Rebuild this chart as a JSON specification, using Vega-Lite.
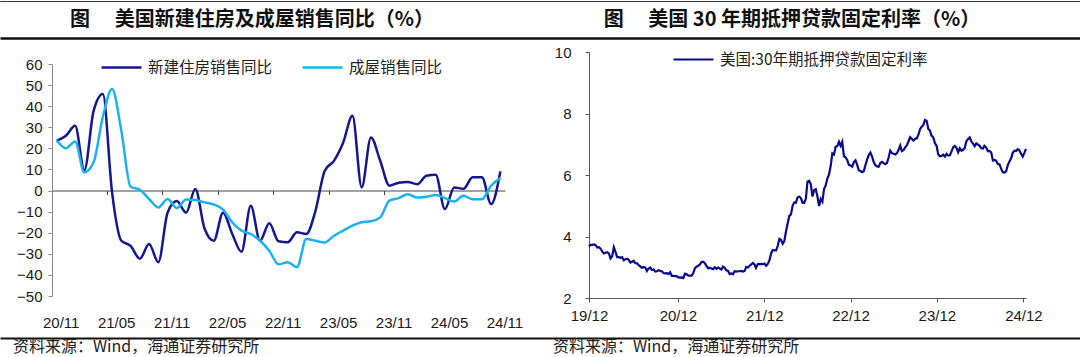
{
  "$schema": "https://vega.github.io/schema/vega-lite/v6.json",
  "padding": {"left": 0, "top": 1, "right": 0, "bottom": 0},
  "background": "white",
  "spacing": 7,
  "config": {
    "view": {"stroke": null},
    "font": "Noto Sans CJK SC",
    "axis": {"labelFont": "Liberation Sans", "labelFontSize": 15, "labelColor": "#1a1a1a", "grid": false, "tickSize": 4, "title": null, "domainColor": "#666", "tickColor": "#666", "labelOverlap": false, "labelFlush": false},
    "legend": {"labelFont": "Noto Sans CJK SC", "labelFontSize": 15.5, "labelColor": "#222", "padding": 0, "symbolType": "M-2,0L2,0", "symbolSize": 400, "symbolStrokeWidth": 2.5, "labelOffset": 15, "title": null, "labelLimit": 400}
  },
  "vconcat": [
    {
      "width": 1080,
      "height": 37,
      "data": {"values": [{"p": "L", "t": "图　 美国新建住房及成屋销售同比（%）"}, {"p": "R", "t": "图　 美国 30 年期抵押贷款固定利率（%）"}]},
      "mark": {"type": "text", "fontSize": 20, "fontWeight": "bold", "color": "#111", "dx": -18, "baseline": "middle"},
      "encoding": {
        "x": {"field": "p", "type": "nominal", "scale": {"type": "band", "paddingInner": 0, "paddingOuter": 0},
              "axis": {"orient": "top", "domain": true, "domainColor": "#333", "domainWidth": 1.2, "ticks": false, "labels": false}},
        "y": {"datum": 1.486, "type": "quantitative", "scale": {"domain": [1, 2], "nice": false},
              "axis": {"values": [1, 2], "grid": true, "gridColor": {"condition": {"test": "datum.value > 1.5", "value": "#333"}, "value": "#111"}, "gridWidth": {"condition": {"test": "datum.value > 1.5", "value": 1.2}, "value": 2.5}, "domain": false, "ticks": false, "labels": false}},
        "text": {"field": "t"}
      }
    },
    {
      "spacing": 0,
      "hconcat": [
        {"width": 1, "height": 1, "data": {"values": []}, "mark": "point"},
        {
          "spacing": 30,
          "resolve": {"scale": {"color": "independent"}, "legend": {"color": "independent"}},
          "hconcat": [
            {
              "width": 453,
              "height": 244,
              "data": {"values": [
                {"m": "20/11", "新建住房销售同比": 23.6, "成屋销售同比": 23.9},
                {"m": "20/12", "新建住房销售同比": 26, "成屋销售同比": 20.1},
                {"m": "21/01", "新建住房销售同比": 30.7, "成屋销售同比": 23.3},
                {"m": "21/02", "新建住房销售同比": 9.7, "成屋销售同比": 8.6},
                {"m": "21/03", "新建住房销售同比": 37.8, "成屋销售同比": 13.4},
                {"m": "21/04", "新建住房销售同比": 45.8, "成屋销售同比": 35},
                {"m": "21/05", "新建住房销售同比": -1, "成屋销售同比": 48.1},
                {"m": "21/06", "新建住房销售同比": -23.8, "成屋销售同比": 28.4},
                {"m": "21/07", "新建住房销售同比": -26.2, "成屋销售同比": 1.8},
                {"m": "21/08", "新建住房销售同比": -32.3, "成屋销售同比": 0.4},
                {"m": "21/09", "新建住房销售同比": -25.4, "成屋销售同比": -4},
                {"m": "21/10", "新建住房销售同比": -34, "成屋销售同比": -8},
                {"m": "21/11", "新建住房销售同比": -10.5, "成屋销售同比": -4},
                {"m": "21/12", "新建住房销售同比": -5, "成屋销售同比": -8.3},
                {"m": "22/01", "新建住房销售同比": -10.5, "成屋销售同比": -4.2},
                {"m": "22/02", "新建住房销售同比": 0.7, "成屋销售同比": -4.5},
                {"m": "22/03", "新建住房销售同比": -18, "成屋销售同比": -5.6},
                {"m": "22/04", "新建住房销售同比": -23.8, "成屋销售同比": -6.6},
                {"m": "22/05", "新建住房销售同比": -10.5, "成屋销售同比": -9},
                {"m": "22/06", "新建住房销售同比": -20.6, "成屋销售同比": -15.1},
                {"m": "22/07", "新建住房销售同比": -29, "成屋销售同比": -19},
                {"m": "22/08", "新建住房销售同比": -7.2, "成屋销售同比": -20.6},
                {"m": "22/09", "新建住房销售同比": -23.8, "成屋销售同比": -23.8},
                {"m": "22/10", "新建住房销售同比": -15.5, "成屋销售同比": -28.5},
                {"m": "22/11", "新建住房销售同比": -24, "成屋销售同比": -35},
                {"m": "22/12", "新建住房销售同比": -24.5, "成屋销售同比": -34},
                {"m": "23/01", "新建住房销售同比": -19.8, "成屋销售同比": -36.4},
                {"m": "23/02", "新建住房销售同比": -20.6, "成屋销售同比": -23},
                {"m": "23/03", "新建住房销售同比": -9.6, "成屋销售同比": -23.8},
                {"m": "23/04", "新建住房销售同比": 9.4, "成屋销售同比": -24.6},
                {"m": "23/05", "新建住房销售同比": 14.1, "成屋销售同比": -21.4},
                {"m": "23/06", "新建住房销售同比": 22.8, "成屋销售同比": -19},
                {"m": "23/07", "新建住房销售同比": 35.5, "成屋销售同比": -16.6},
                {"m": "23/08", "新建住房销售同比": 1.5, "成屋销售同比": -15},
                {"m": "23/09", "新建住房销售同比": 25.2, "成屋销售同比": -14.6},
                {"m": "23/10", "新建住房销售同比": 14.1, "成屋销售同比": -12.7},
                {"m": "23/11", "新建住房销售同比": 2.3, "成屋销售同比": -4.8},
                {"m": "23/12", "新建住房销售同比": 3.7, "成屋销售同比": -3.6},
                {"m": "24/01", "新建住房销售同比": 4.0, "成屋销售同比": -1.7},
                {"m": "24/02", "新建住房销售同比": 3.0, "成屋销售同比": -3.3},
                {"m": "24/03", "新建住房销售同比": 7.0, "成屋销售同比": -2.9},
                {"m": "24/04", "新建住房销售同比": 7.5, "成屋销售同比": -2.1},
                {"m": "24/05", "新建住房销售同比": -8.8, "成屋销售同比": -3.6},
                {"m": "24/06", "新建住房销售同比": 1.5, "成屋销售同比": -5.2},
                {"m": "24/07", "新建住房销售同比": 0.8, "成屋销售同比": -2.5},
                {"m": "24/08", "新建住房销售同比": 6.3, "成屋销售同比": -4.1},
                {"m": "24/09", "新建住房销售同比": 6.3, "成屋销售同比": -4.1},
                {"m": "24/10", "新建住房销售同比": -6.4, "成屋销售同比": 2.3},
                {"m": "24/11", "新建住房销售同比": 9.1, "成屋销售同比": 5.9}
              ]},
              "transform": [{"fold": ["新建住房销售同比", "成屋销售同比"], "as": ["k", "v"]}],
              "mark": {"type": "line", "interpolate": "monotone", "strokeWidth": 2.5},
              "encoding": {
                "x": {"field": "m", "type": "ordinal", "sort": "ascending", "scale": {"type": "band", "paddingInner": 0, "paddingOuter": 0},
                      "axis": {"values": ["20/11", "21/05", "21/11", "22/05", "22/11", "23/05", "23/11", "24/05", "24/11"], "bandPosition": 0, "labelOffset": 4.6, "labelAlign": "center", "labelAngle": 0, "offset": -105.5, "labelPadding": 121, "labelFlush": false, "domainColor": "#444", "tickColor": "#444"}},
                "y": {"field": "v", "type": "quantitative", "scale": {"domain": [-50, 65.7], "nice": false, "zero": false},
                      "axis": {"values": [-50, -40, -30, -20, -10, 0, 10, 20, 30, 40, 50, 60], "labelOverlap": false, "domain": true, "domainColor": "#888", "domainDash": [232, 40], "labelPadding": 6, "minExtent": 51, "tickColor": "#888"}},
                "color": {"field": "k", "type": "nominal", "scale": {"domain": ["新建住房销售同比", "成屋销售同比"], "range": ["#161690", "#1ab2ee"]},
                          "legend": {"orient": "none", "legendX": 58, "legendY": 4, "direction": "horizontal", "columnPadding": 24}}
              }
            },
            {
              "width": 437,
              "height": 246,
              "data": {"values": [
                {"d": "2019-12-05", "r": 3.68}, {"d": "2019-12-12", "r": 3.73}, {"d": "2019-12-19", "r": 3.73}, {"d": "2019-12-26", "r": 3.74},
                {"d": "2020-01-02", "r": 3.72}, {"d": "2020-01-09", "r": 3.64}, {"d": "2020-01-16", "r": 3.65}, {"d": "2020-01-23", "r": 3.60}, {"d": "2020-01-30", "r": 3.51},
                {"d": "2020-02-06", "r": 3.45}, {"d": "2020-02-13", "r": 3.47}, {"d": "2020-02-20", "r": 3.49}, {"d": "2020-02-27", "r": 3.45},
                {"d": "2020-03-05", "r": 3.29}, {"d": "2020-03-12", "r": 3.36}, {"d": "2020-03-19", "r": 3.65}, {"d": "2020-03-26", "r": 3.50},
                {"d": "2020-04-02", "r": 3.33}, {"d": "2020-04-09", "r": 3.33}, {"d": "2020-04-16", "r": 3.31}, {"d": "2020-04-23", "r": 3.33}, {"d": "2020-04-30", "r": 3.23},
                {"d": "2020-05-07", "r": 3.26}, {"d": "2020-05-14", "r": 3.28}, {"d": "2020-05-21", "r": 3.24}, {"d": "2020-05-28", "r": 3.15},
                {"d": "2020-06-04", "r": 3.18}, {"d": "2020-06-11", "r": 3.21}, {"d": "2020-06-18", "r": 3.13}, {"d": "2020-06-25", "r": 3.13},
                {"d": "2020-07-02", "r": 3.07}, {"d": "2020-07-09", "r": 3.03}, {"d": "2020-07-16", "r": 2.98}, {"d": "2020-07-23", "r": 3.01}, {"d": "2020-07-30", "r": 2.99},
                {"d": "2020-08-06", "r": 2.88}, {"d": "2020-08-13", "r": 2.96}, {"d": "2020-08-20", "r": 2.99}, {"d": "2020-08-27", "r": 2.91},
                {"d": "2020-09-03", "r": 2.93}, {"d": "2020-09-10", "r": 2.86}, {"d": "2020-09-17", "r": 2.87}, {"d": "2020-09-24", "r": 2.90},
                {"d": "2020-10-01", "r": 2.88}, {"d": "2020-10-08", "r": 2.87}, {"d": "2020-10-15", "r": 2.81}, {"d": "2020-10-22", "r": 2.80}, {"d": "2020-10-29", "r": 2.81},
                {"d": "2020-11-05", "r": 2.78}, {"d": "2020-11-12", "r": 2.84}, {"d": "2020-11-19", "r": 2.72}, {"d": "2020-11-25", "r": 2.72},
                {"d": "2020-12-03", "r": 2.71}, {"d": "2020-12-10", "r": 2.71}, {"d": "2020-12-17", "r": 2.67}, {"d": "2020-12-24", "r": 2.66}, {"d": "2020-12-31", "r": 2.67},
                {"d": "2021-01-07", "r": 2.65}, {"d": "2021-01-14", "r": 2.79}, {"d": "2021-01-21", "r": 2.77}, {"d": "2021-01-28", "r": 2.73},
                {"d": "2021-02-04", "r": 2.73}, {"d": "2021-02-11", "r": 2.73}, {"d": "2021-02-18", "r": 2.81}, {"d": "2021-02-25", "r": 2.97},
                {"d": "2021-03-04", "r": 3.02}, {"d": "2021-03-11", "r": 3.05}, {"d": "2021-03-18", "r": 3.09}, {"d": "2021-03-25", "r": 3.17},
                {"d": "2021-04-01", "r": 3.18}, {"d": "2021-04-08", "r": 3.13}, {"d": "2021-04-15", "r": 3.04}, {"d": "2021-04-22", "r": 2.97}, {"d": "2021-04-29", "r": 2.98},
                {"d": "2021-05-06", "r": 2.96}, {"d": "2021-05-13", "r": 2.94}, {"d": "2021-05-20", "r": 3.00}, {"d": "2021-05-27", "r": 2.95},
                {"d": "2021-06-03", "r": 2.99}, {"d": "2021-06-10", "r": 2.96}, {"d": "2021-06-17", "r": 2.93}, {"d": "2021-06-24", "r": 3.02},
                {"d": "2021-07-01", "r": 2.98}, {"d": "2021-07-08", "r": 2.90}, {"d": "2021-07-15", "r": 2.88}, {"d": "2021-07-22", "r": 2.78}, {"d": "2021-07-29", "r": 2.80},
                {"d": "2021-08-05", "r": 2.77}, {"d": "2021-08-12", "r": 2.87}, {"d": "2021-08-19", "r": 2.86}, {"d": "2021-08-26", "r": 2.87},
                {"d": "2021-09-02", "r": 2.87}, {"d": "2021-09-09", "r": 2.88}, {"d": "2021-09-16", "r": 2.86}, {"d": "2021-09-23", "r": 2.88}, {"d": "2021-09-30", "r": 3.01},
                {"d": "2021-10-07", "r": 2.99}, {"d": "2021-10-14", "r": 3.05}, {"d": "2021-10-21", "r": 3.09}, {"d": "2021-10-28", "r": 3.14},
                {"d": "2021-11-04", "r": 3.09}, {"d": "2021-11-10", "r": 2.98}, {"d": "2021-11-18", "r": 3.10}, {"d": "2021-11-24", "r": 3.10},
                {"d": "2021-12-02", "r": 3.11}, {"d": "2021-12-09", "r": 3.10}, {"d": "2021-12-16", "r": 3.12}, {"d": "2021-12-23", "r": 3.05}, {"d": "2021-12-30", "r": 3.11},
                {"d": "2022-01-06", "r": 3.22}, {"d": "2022-01-13", "r": 3.45}, {"d": "2022-01-20", "r": 3.56}, {"d": "2022-01-27", "r": 3.55},
                {"d": "2022-02-03", "r": 3.55}, {"d": "2022-02-10", "r": 3.69}, {"d": "2022-02-17", "r": 3.92}, {"d": "2022-02-24", "r": 3.89},
                {"d": "2022-03-03", "r": 3.76}, {"d": "2022-03-10", "r": 3.85}, {"d": "2022-03-17", "r": 4.16}, {"d": "2022-03-24", "r": 4.42}, {"d": "2022-03-31", "r": 4.67},
                {"d": "2022-04-07", "r": 4.72}, {"d": "2022-04-14", "r": 5.00}, {"d": "2022-04-21", "r": 5.11}, {"d": "2022-04-28", "r": 5.10},
                {"d": "2022-05-05", "r": 5.27}, {"d": "2022-05-12", "r": 5.30}, {"d": "2022-05-19", "r": 5.25}, {"d": "2022-05-26", "r": 5.10},
                {"d": "2022-06-02", "r": 5.09}, {"d": "2022-06-09", "r": 5.23}, {"d": "2022-06-16", "r": 5.78}, {"d": "2022-06-23", "r": 5.81}, {"d": "2022-06-30", "r": 5.70},
                {"d": "2022-07-07", "r": 5.30}, {"d": "2022-07-14", "r": 5.51}, {"d": "2022-07-21", "r": 5.54}, {"d": "2022-07-28", "r": 5.30},
                {"d": "2022-08-04", "r": 4.99}, {"d": "2022-08-11", "r": 5.22}, {"d": "2022-08-18", "r": 5.13}, {"d": "2022-08-25", "r": 5.55},
                {"d": "2022-09-01", "r": 5.66}, {"d": "2022-09-08", "r": 5.89}, {"d": "2022-09-15", "r": 6.02}, {"d": "2022-09-22", "r": 6.29}, {"d": "2022-09-29", "r": 6.70},
                {"d": "2022-10-06", "r": 6.66}, {"d": "2022-10-13", "r": 6.92}, {"d": "2022-10-20", "r": 6.94}, {"d": "2022-10-27", "r": 7.08},
                {"d": "2022-11-03", "r": 6.95}, {"d": "2022-11-10", "r": 7.08}, {"d": "2022-11-17", "r": 6.61}, {"d": "2022-11-23", "r": 6.58},
                {"d": "2022-12-01", "r": 6.49}, {"d": "2022-12-08", "r": 6.33}, {"d": "2022-12-15", "r": 6.31}, {"d": "2022-12-22", "r": 6.27}, {"d": "2022-12-29", "r": 6.42},
                {"d": "2023-01-05", "r": 6.48}, {"d": "2023-01-12", "r": 6.33}, {"d": "2023-01-19", "r": 6.15}, {"d": "2023-01-26", "r": 6.13},
                {"d": "2023-02-02", "r": 6.09}, {"d": "2023-02-09", "r": 6.12}, {"d": "2023-02-16", "r": 6.32}, {"d": "2023-02-23", "r": 6.50},
                {"d": "2023-03-02", "r": 6.65}, {"d": "2023-03-09", "r": 6.73}, {"d": "2023-03-16", "r": 6.60}, {"d": "2023-03-23", "r": 6.42}, {"d": "2023-03-30", "r": 6.32},
                {"d": "2023-04-06", "r": 6.28}, {"d": "2023-04-13", "r": 6.27}, {"d": "2023-04-20", "r": 6.39}, {"d": "2023-04-27", "r": 6.43},
                {"d": "2023-05-04", "r": 6.39}, {"d": "2023-05-11", "r": 6.35}, {"d": "2023-05-18", "r": 6.39}, {"d": "2023-05-25", "r": 6.57},
                {"d": "2023-06-01", "r": 6.79}, {"d": "2023-06-08", "r": 6.71}, {"d": "2023-06-15", "r": 6.69}, {"d": "2023-06-22", "r": 6.67}, {"d": "2023-06-29", "r": 6.71},
                {"d": "2023-07-06", "r": 6.81}, {"d": "2023-07-13", "r": 6.96}, {"d": "2023-07-20", "r": 6.78}, {"d": "2023-07-27", "r": 6.81},
                {"d": "2023-08-03", "r": 6.90}, {"d": "2023-08-10", "r": 6.96}, {"d": "2023-08-17", "r": 7.09}, {"d": "2023-08-24", "r": 7.23}, {"d": "2023-08-31", "r": 7.18},
                {"d": "2023-09-07", "r": 7.12}, {"d": "2023-09-14", "r": 7.18}, {"d": "2023-09-21", "r": 7.19}, {"d": "2023-09-28", "r": 7.31},
                {"d": "2023-10-05", "r": 7.49}, {"d": "2023-10-12", "r": 7.57}, {"d": "2023-10-19", "r": 7.63}, {"d": "2023-10-26", "r": 7.79},
                {"d": "2023-11-02", "r": 7.76}, {"d": "2023-11-09", "r": 7.50}, {"d": "2023-11-16", "r": 7.44}, {"d": "2023-11-22", "r": 7.29}, {"d": "2023-11-30", "r": 7.22},
                {"d": "2023-12-07", "r": 7.03}, {"d": "2023-12-14", "r": 6.95}, {"d": "2023-12-21", "r": 6.67}, {"d": "2023-12-28", "r": 6.61},
                {"d": "2024-01-04", "r": 6.62}, {"d": "2024-01-11", "r": 6.66}, {"d": "2024-01-18", "r": 6.60}, {"d": "2024-01-25", "r": 6.69},
                {"d": "2024-02-01", "r": 6.63}, {"d": "2024-02-08", "r": 6.64}, {"d": "2024-02-15", "r": 6.77}, {"d": "2024-02-22", "r": 6.90}, {"d": "2024-02-29", "r": 6.94},
                {"d": "2024-03-07", "r": 6.88}, {"d": "2024-03-14", "r": 6.74}, {"d": "2024-03-21", "r": 6.87}, {"d": "2024-03-28", "r": 6.79},
                {"d": "2024-04-04", "r": 6.82}, {"d": "2024-04-11", "r": 6.88}, {"d": "2024-04-18", "r": 7.10}, {"d": "2024-04-25", "r": 7.17},
                {"d": "2024-05-02", "r": 7.22}, {"d": "2024-05-09", "r": 7.09}, {"d": "2024-05-16", "r": 7.02}, {"d": "2024-05-23", "r": 6.94}, {"d": "2024-05-30", "r": 7.03},
                {"d": "2024-06-06", "r": 6.99}, {"d": "2024-06-13", "r": 6.95}, {"d": "2024-06-20", "r": 6.87}, {"d": "2024-06-27", "r": 6.86},
                {"d": "2024-07-03", "r": 6.95}, {"d": "2024-07-11", "r": 6.89}, {"d": "2024-07-18", "r": 6.77}, {"d": "2024-07-25", "r": 6.78},
                {"d": "2024-08-01", "r": 6.73}, {"d": "2024-08-08", "r": 6.47}, {"d": "2024-08-15", "r": 6.49}, {"d": "2024-08-22", "r": 6.46}, {"d": "2024-08-29", "r": 6.35},
                {"d": "2024-09-05", "r": 6.35}, {"d": "2024-09-12", "r": 6.20}, {"d": "2024-09-19", "r": 6.09}, {"d": "2024-09-26", "r": 6.08},
                {"d": "2024-10-03", "r": 6.12}, {"d": "2024-10-10", "r": 6.32}, {"d": "2024-10-17", "r": 6.44}, {"d": "2024-10-24", "r": 6.54}, {"d": "2024-10-31", "r": 6.72},
                {"d": "2024-11-07", "r": 6.79}, {"d": "2024-11-14", "r": 6.78}, {"d": "2024-11-21", "r": 6.84}, {"d": "2024-11-27", "r": 6.81},
                {"d": "2024-12-05", "r": 6.69}, {"d": "2024-12-12", "r": 6.60}, {"d": "2024-12-19", "r": 6.72}, {"d": "2024-12-26", "r": 6.85}
              ]},
              "mark": {"type": "line", "strokeWidth": 2.2},
              "encoding": {
                "x": {"field": "d", "type": "temporal",
                      "scale": {"type": "utc", "domain": [{"year": 2019, "month": 12, "date": 5, "utc": true}, {"year": 2024, "month": 12, "date": 26, "utc": true}]},
                      "axis": {"values": [{"year": 2019, "month": 12, "date": 5, "utc": true}, {"year": 2020, "month": 12, "date": 15, "utc": true}, {"year": 2021, "month": 12, "date": 15, "utc": true}, {"year": 2022, "month": 12, "date": 15, "utc": true}, {"year": 2023, "month": 12, "date": 15, "utc": true}, {"year": 2024, "month": 12, "date": 15, "utc": true}],
                               "format": "%y/%m", "labelPadding": 6, "labelAlign": "center", "domainColor": "#555", "tickColor": "#555"}},
                "y": {"field": "r", "type": "quantitative", "scale": {"domain": [2, 10], "nice": false, "zero": false},
                      "axis": {"values": [2, 4, 6, 8, 10], "labelPadding": 14, "minExtent": 36, "domainColor": "#555", "tickColor": "#555"}},
                "color": {"datum": "美国:30年期抵押贷款固定利率", "type": "nominal", "scale": {"range": ["#0a0a8a"]},
                          "legend": {"orient": "none", "legendX": 93, "legendY": -4, "symbolStrokeWidth": 2.2}}
              }
            }
          ]
        }
      ]
    },
    {
      "width": 1080,
      "height": 20,
      "data": {"values": [{"p": "L", "t": "资料来源：Wind，海通证券研究所"}, {"p": "R", "t": "资料来源：Wind，海通证券研究所"}]},
      "mark": {"type": "text", "fontSize": 16, "color": "#222", "align": "left", "dx": 13, "baseline": "middle"},
      "encoding": {
        "x": {"field": "p", "type": "nominal", "bandPosition": 0, "scale": {"type": "band", "paddingInner": 0, "paddingOuter": 0},
              "axis": {"orient": "top", "offset": 3, "domain": true, "domainColor": "#111", "domainWidth": 2, "ticks": false, "labels": false}},
        "y": {"datum": 1.68, "type": "quantitative", "scale": {"domain": [1, 2]}, "axis": null},
        "text": {"field": "t"}
      }
    }
  ]
}
